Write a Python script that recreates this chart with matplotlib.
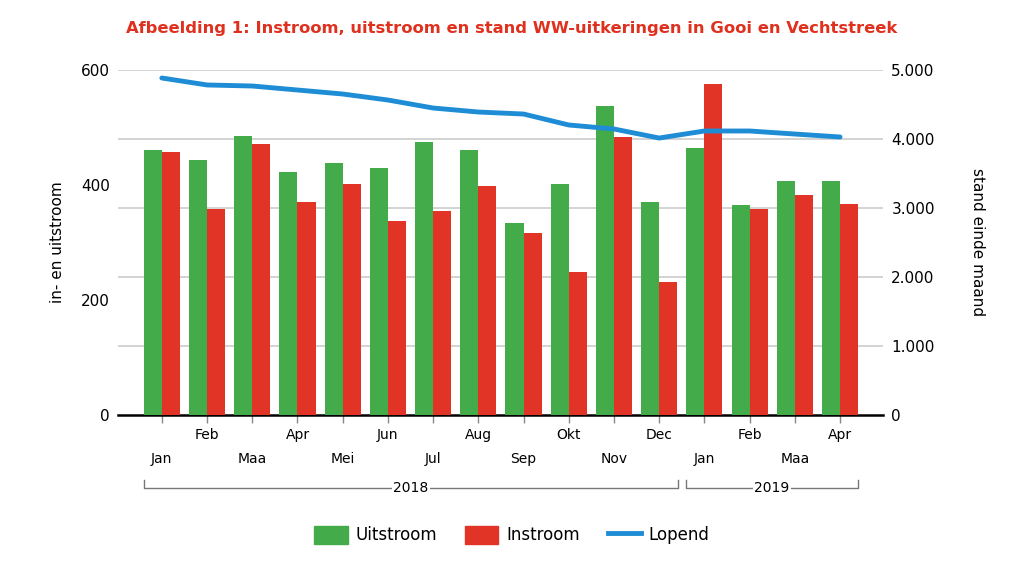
import numpy as np
import matplotlib.pyplot as plt
import matplotlib.transforms as mtransforms
from matplotlib.patches import Patch
from matplotlib.lines import Line2D

months = ['Jan', 'Feb', 'Maa', 'Apr', 'Mei', 'Jun', 'Jul', 'Aug', 'Sep', 'Okt', 'Nov', 'Dec',
          'Jan', 'Feb', 'Maa', 'Apr']
years = ['2018'] * 12 + ['2019'] * 4
uitstroom = [461, 443, 485, 423, 438, 430, 475, 461, 334, 402, 537, 370, 464, 365, 407, 407]
instroom = [457, 358, 471, 370, 402, 337, 355, 398, 317, 249, 483, 231, 576, 358, 383, 367]
lopend = [4884, 4783, 4768, 4710, 4652, 4565, 4449, 4391, 4362, 4203, 4145, 4014,
          4116, 4116, 4072, 4029]

green = '#43ab49'
red = '#e23327'
blue = '#1f8dd6'

fig = plt.figure(figsize=(10.24, 5.71), dpi=100)
ax = fig.add_axes([118 / 1024, 1 - 415 / 571, (883 - 118) / 1024, 345 / 571])
ax2 = ax.twinx()

x = np.arange(len(months))
w = 0.4
ax.bar(x - w / 2, uitstroom, w, color=green, zorder=3)
ax.bar(x + w / 2, instroom, w, color=red, zorder=3)
ax.set_ylim(0, 600)
ax.set_xlim(-0.97, 15.95)
ax.set_yticks([0, 200, 400, 600])
ax.tick_params(axis='y', length=0, labelsize=11, pad=6)
ax.set_ylabel('in- en uitstroom', fontsize=11, labelpad=11)

ax2.set_ylim(0, 5000)
ax2.set_yticks(range(0, 5001, 1000))
ax2.set_yticklabels([f'{v:,}'.replace(',', '.') for v in range(0, 5001, 1000)])
ax2.tick_params(axis='y', length=0, labelsize=11, pad=6)
ax2.set_ylabel('stand einde maand', fontsize=11, rotation=-90, labelpad=36)

# grid follows right axis
for v in range(1000, 5001, 1000):
    ax2.axhline(v, color='#d3d3d3', lw=1.4, zorder=0)
ax.set_zorder(ax2.get_zorder() + 1)
ax.patch.set_visible(False)

# line above bars
ax3 = ax.twinx()
ax3.plot(x, lopend, color=blue, lw=3.5, solid_capstyle='round')
ax3.set_ylim(0, 5000)
ax3.axis('off')
ax3.set_zorder(ax.get_zorder() + 1)

for a in (ax, ax2):
    for s in ['top', 'left', 'right']:
        a.spines[s].set_visible(False)
ax2.spines['bottom'].set_visible(False)
ax.spines['bottom'].set_linewidth(1.8)
ax.spines['bottom'].set_color('black')

ax.set_xticks(x)
ax.set_xticklabels([])
ax.tick_params(axis='x', length=6, color='#888888', width=1)

trans = mtransforms.blended_transform_factory(ax.transData, ax.transAxes)
for i, m in enumerate(months):
    yy = -0.058 if i % 2 else -0.1275
    ax.text(i, yy, m, transform=trans, ha='center', va='center', fontsize=10)

# year brackets
def bracket(x0, x1, label):
    y0, y1 = -0.188, -0.2116
    ax.plot([x0, x0, x1, x1], [y0, y1, y1, y0], transform=trans, color='#777777',
            lw=1, clip_on=False)
    ax.text((x0 + x1) / 2, y1, label, transform=trans, ha='center', va='center',
            fontsize=10, bbox=dict(facecolor='white', edgecolor='none', pad=1))

bracket(-0.4, 11.42, years[0])
bracket(11.59, 15.4, years[-1])

fig.text(0.5, 1 - 28 / 571, 'Afbeelding 1: Instroom, uitstroom en stand WW-uitkeringen in Gooi en Vechtstreek',
         ha='center', va='center', fontsize=11.8, fontweight='bold', color='#e0301e')

handles = [Patch(color=green, label='Uitstroom'), Patch(color=red, label='Instroom'),
           Line2D([0], [0], color=blue, lw=3.5, label='Lopend')]
fig.legend(handles=handles, loc='center', bbox_to_anchor=(0.5, 1 - 535 / 571), ncol=3,
           frameon=False, fontsize=12, handlelength=2.0, handleheight=1.3,
           handletextpad=0.45, columnspacing=1.7)

fig.savefig('out.png', dpi=100)
